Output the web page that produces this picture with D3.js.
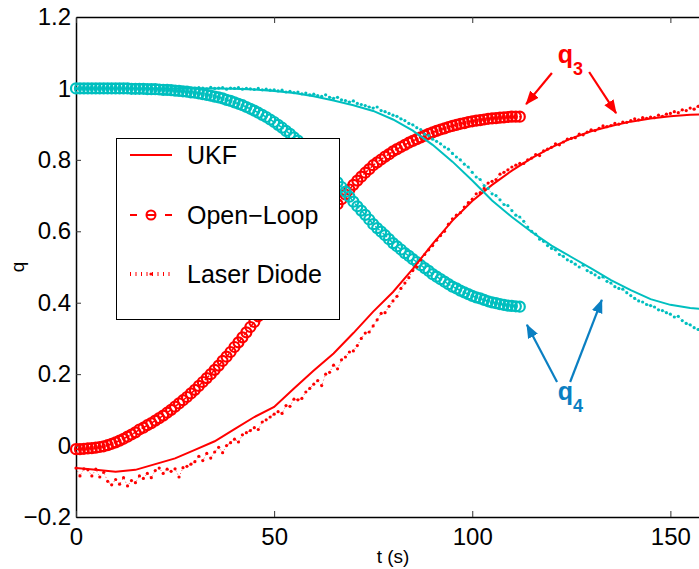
<!DOCTYPE html>
<html>
<head>
<meta charset="utf-8">
<script src="https://cdn.jsdelivr.net/npm/d3@7"></script>
<style>
  body { margin: 0; background: #fff; }
  svg { display: block; font-family: "Liberation Sans", Arial, Helvetica, sans-serif; }
  .axis .domain { stroke: #000; stroke-width: 1.5; }
  .axis .tick line { stroke: #333; stroke-width: 1; }
  .axis .tick text { fill: #000; font-size: 24px; font-family: "Liberation Sans", Arial, sans-serif; }
</style>
</head>
<body>
<svg id="chart" width="699" height="569"></svg>
<script>
// ---- data ----
// open-loop propagation, one sample per second, t = 0..112 s
const tOpen = d3.range(0, 113, 1);
const openQ3 = [
  -0.010, -0.010, -0.009, -0.008, -0.007, -0.006, -0.004, -0.002, 0.001, 0.005,
  0.009, 0.014, 0.019, 0.025, 0.031, 0.037, 0.045, 0.050, 0.057, 0.063,
  0.070, 0.077, 0.084, 0.092, 0.100, 0.109, 0.118, 0.127, 0.136, 0.146,
  0.156, 0.167, 0.178, 0.189, 0.200, 0.212, 0.224, 0.237, 0.249, 0.262,
  0.276, 0.289, 0.303, 0.317, 0.332, 0.346, 0.362, 0.377, 0.392, 0.407,
  0.423, 0.439, 0.456, 0.473, 0.489, 0.505, 0.521, 0.537, 0.553, 0.569,
  0.585, 0.600, 0.616, 0.631, 0.647, 0.661, 0.676, 0.690, 0.703, 0.717,
  0.730, 0.742, 0.753, 0.764, 0.774, 0.785, 0.793, 0.801, 0.809, 0.816,
  0.824, 0.830, 0.836, 0.842, 0.848, 0.853, 0.858, 0.863, 0.868, 0.873,
  0.877, 0.881, 0.885, 0.888, 0.892, 0.895, 0.898, 0.901, 0.903, 0.906,
  0.908, 0.910, 0.911, 0.913, 0.915, 0.916, 0.917, 0.918, 0.919, 0.920,
  0.921, 0.921, 0.921
];
const openQ4 = [
  1.000, 1.000, 1.000, 1.000, 1.000, 1.000, 1.000, 1.000, 1.000, 1.000,
  1.000, 1.000, 1.000, 1.000, 0.999, 0.999, 0.999, 0.999, 0.998, 0.998,
  0.998, 0.997, 0.996, 0.996, 0.995, 0.994, 0.993, 0.992, 0.991, 0.989,
  0.988, 0.986, 0.984, 0.982, 0.980, 0.977, 0.975, 0.972, 0.968, 0.965,
  0.961, 0.957, 0.953, 0.948, 0.943, 0.938, 0.932, 0.926, 0.920, 0.913,
  0.906, 0.898, 0.890, 0.881, 0.873, 0.863, 0.854, 0.843, 0.833, 0.822,
  0.811, 0.800, 0.788, 0.775, 0.763, 0.750, 0.737, 0.724, 0.711, 0.697,
  0.683, 0.670, 0.658, 0.646, 0.633, 0.620, 0.609, 0.599, 0.589, 0.578,
  0.567, 0.558, 0.549, 0.539, 0.531, 0.522, 0.514, 0.505, 0.497, 0.489,
  0.480, 0.473, 0.466, 0.459, 0.452, 0.445, 0.440, 0.434, 0.429, 0.424,
  0.419, 0.415, 0.412, 0.408, 0.404, 0.401, 0.399, 0.396, 0.394, 0.392,
  0.391, 0.390, 0.389
];

// UKF estimate, every 5 s
const tUkf = d3.range(0, 161, 5);
const ukfQ3 = [
  -0.063, -0.068, -0.073, -0.068, -0.052, -0.036, -0.012, 0.012, 0.046, 0.080,
  0.108, 0.160, 0.210, 0.258, 0.315, 0.375, 0.430, 0.495, 0.565, 0.630,
  0.685, 0.730, 0.770, 0.805, 0.835, 0.860, 0.880, 0.895, 0.907, 0.916,
  0.922, 0.926, 0.929
];
const ukfQ4 = [
  1.000, 1.000, 1.000, 1.000, 1.000, 1.000, 1.000, 1.000, 0.999, 0.997,
  0.993, 0.987, 0.978, 0.966, 0.953, 0.937, 0.913, 0.882, 0.842, 0.795,
  0.742, 0.686, 0.640, 0.598, 0.560, 0.528, 0.496, 0.463, 0.435, 0.410,
  0.394, 0.385, 0.380
];

// laser diode measurement, one sample per second
const tLaser = d3.range(0, 161, 1);
const laserQ3 = [
  -0.063, -0.085, -0.065, -0.068, -0.085, -0.066, -0.088, -0.075, -0.100, -0.110,
  -0.095, -0.108, -0.090, -0.113, -0.098, -0.104, -0.085, -0.092, -0.078, -0.090,
  -0.070, -0.063, -0.078, -0.066, -0.072, -0.065, -0.088, -0.062, -0.058, -0.052,
  -0.045, -0.030, -0.042, -0.022, -0.035, -0.018, -0.005, -0.020, 0.000, 0.008,
  0.018, 0.010, 0.030, 0.036, 0.042, 0.050, 0.045, 0.066, 0.072, 0.080,
  0.088, 0.095, 0.090, 0.112, 0.110, 0.130, 0.128, 0.132, 0.150, 0.160,
  0.172, 0.182, 0.168, 0.200, 0.205, 0.225, 0.215, 0.240, 0.248, 0.262,
  0.265, 0.280, 0.300, 0.315, 0.318, 0.335, 0.352, 0.370, 0.372, 0.390,
  0.405, 0.418, 0.440, 0.455, 0.470, 0.490, 0.500, 0.520, 0.535, 0.548,
  0.560, 0.575, 0.588, 0.600, 0.620, 0.635, 0.645, 0.652, 0.668, 0.680,
  0.690, 0.705, 0.708, 0.720, 0.735, 0.740, 0.745, 0.760, 0.765, 0.772,
  0.780, 0.785, 0.790, 0.790, 0.800, 0.805, 0.815, 0.812, 0.825, 0.830,
  0.835, 0.845, 0.842, 0.850, 0.858, 0.860, 0.862, 0.872, 0.870, 0.878,
  0.884, 0.882, 0.888, 0.895, 0.893, 0.896, 0.902, 0.900, 0.906, 0.905,
  0.910, 0.915, 0.912, 0.918, 0.916, 0.920, 0.918, 0.925, 0.922, 0.928,
  0.930, 0.935, 0.932, 0.940, 0.938, 0.945, 0.942, 0.950, 0.948, 0.952,
  0.950
];
const laserQ4 = [
  1.000, 1.002, 0.999, 1.001, 1.000, 0.998, 1.001, 1.000, 1.002, 0.999,
  1.000, 1.001, 0.999, 1.002, 1.000, 1.001, 0.998, 1.000, 1.002, 1.000,
  0.999, 1.001, 1.000, 1.003, 0.999, 1.001, 1.000, 1.002, 0.999, 1.001,
  1.000, 1.002, 1.001, 0.999, 1.003, 1.000, 1.001, 1.002, 0.998, 1.001,
  1.000, 1.002, 0.998, 1.000, 0.999, 0.997, 1.000, 0.996, 0.998, 0.995,
  0.996, 0.993, 0.995, 0.990, 0.992, 0.988, 0.990, 0.985, 0.987, 0.982,
  0.984, 0.980, 0.978, 0.982, 0.975, 0.972, 0.975, 0.968, 0.966, 0.962,
  0.965, 0.958, 0.955, 0.952, 0.948, 0.945, 0.948, 0.938, 0.935, 0.930,
  0.925, 0.922, 0.915, 0.910, 0.902, 0.898, 0.890, 0.885, 0.872, 0.868,
  0.858, 0.852, 0.845, 0.836, 0.830, 0.818, 0.808, 0.800, 0.788, 0.780,
  0.765, 0.752, 0.745, 0.728, 0.720, 0.705, 0.700, 0.688, 0.675, 0.672,
  0.658, 0.645, 0.640, 0.628, 0.612, 0.600, 0.592, 0.578, 0.572, 0.560,
  0.552, 0.548, 0.535, 0.530, 0.520, 0.515, 0.508, 0.500, 0.505, 0.490,
  0.484, 0.478, 0.470, 0.472, 0.460, 0.455, 0.445, 0.440, 0.438, 0.428,
  0.420, 0.412, 0.405, 0.402, 0.395, 0.392, 0.388, 0.380, 0.378, 0.372,
  0.368, 0.360, 0.362, 0.350, 0.342, 0.338, 0.330, 0.325, 0.318, 0.312,
  0.308
];

const xTicks = [0, 50, 100, 150];
const yTicks = [-0.2, 0, 0.2, 0.4, 0.6, 0.8, 1, 1.2];
const yTickLabels = ["\u22120.2", "0", "0.2", "0.4", "0.6", "0.8", "1", "1.2"];
const legendLabels = ["UKF", "Open\u2212Loop", "Laser Diode"];

const RED = "#ff0000";
const CYAN = "#00bfbf";
const BLUE = "#0a7fc2";

const svg = d3.select("#chart");

const x = d3.scaleLinear().domain([0, 160]).range([76, 710]);
const y = d3.scaleLinear().domain([-0.2, 1.2]).range([517, 17]);

const zip = (ts, vs) => ts.map((t, i) => [t, vs[i]]);
const line = d3.line().x(d => x(d[0])).y(d => y(d[1]));

// ---- axes (MATLAB style: ticks inside, box on) ----
svg.append("g")
  .attr("class", "axis")
  .attr("transform", "translate(76,0)")
  .call(d3.axisLeft(y).tickValues(yTicks)
    .tickFormat((d, i) => yTickLabels[i])
    .tickSize(-5).tickSizeOuter(0).tickPadding(5));

svg.append("g")
  .attr("class", "axis")
  .attr("transform", "translate(0,517)")
  .call(d3.axisBottom(x).tickValues(xTicks)
    .tickFormat(d3.format("d"))
    .tickSize(-6).tickSizeOuter(0).tickPadding(11));

// top edge of the box with mirrored ticks
let topAxis = svg.append("g").attr("class", "axis")
  .attr("transform", "translate(0,17)")
  .call(d3.axisTop(x).tickValues(xTicks).tickFormat("").tickSize(-6).tickSizeOuter(0));
topAxis.selectAll(".tick text").remove();

svg.append("text")
  .attr("x", (x.range()[0] + x.range()[1]) / 2)
  .attr("y", 563)
  .attr("text-anchor", "middle")
  .style("font-size", "19px")
  .text("t (s)");

svg.append("text")
  .attr("transform", "translate(24," + ((y.range()[0] + y.range()[1]) / 2) + ") rotate(-90)")
  .attr("text-anchor", "middle")
  .style("font-size", "19px")
  .text("q");

// ---- series ----
let plot = svg.append("g");

function drawOpenLoop(vals, color) {
  let pts = zip(tOpen, vals);
  plot.append("path").datum(pts)
    .attr("d", line).attr("fill", "none")
    .attr("stroke", color).attr("stroke-width", 1.5)
    .attr("stroke-dasharray", "6,4");
  plot.append("g").selectAll("circle")
    .data(pts).enter().append("circle")
    .attr("cx", d => x(d[0]))
    .attr("cy", d => y(d[1]))
    .attr("r", 5)
    .attr("fill", "none")
    .attr("stroke", color)
    .attr("stroke-width", 2.2);
}

function drawUkf(vals, color) {
  plot.append("path").datum(zip(tUkf, vals))
    .attr("d", line).attr("fill", "none")
    .attr("stroke", color).attr("stroke-width", 2);
}

function drawLaser(vals, color) {
  let pts = zip(tLaser, vals);
  plot.append("path").datum(pts)
    .attr("d", line).attr("fill", "none")
    .attr("stroke", color).attr("stroke-width", 1)
    .attr("stroke-dasharray", "1,2.5")
    .attr("opacity", 0.7);
  plot.append("g").selectAll("circle")
    .data(pts).enter().append("circle")
    .attr("cx", d => x(d[0]))
    .attr("cy", d => y(d[1]))
    .attr("r", 1.6)
    .attr("fill", color);
}

drawOpenLoop(openQ3, RED);
drawOpenLoop(openQ4, CYAN);
drawUkf(ukfQ3, RED);
drawUkf(ukfQ4, CYAN);
drawLaser(laserQ3, RED);
drawLaser(laserQ4, CYAN);

// ---- legend ----
let legend = svg.append("g").attr("transform", "translate(116,138)");
legend.append("rect")
  .attr("x", 0.5).attr("y", 0.5)
  .attr("width", 223).attr("height", 181)
  .attr("fill", "#fff").attr("stroke", "#000").attr("stroke-width", 1);

const rowY = [17, 77, 136];
legend.append("line")
  .attr("x1", 14).attr("x2", 56).attr("y1", rowY[0]).attr("y2", rowY[0])
  .attr("stroke", RED).attr("stroke-width", 2);
legend.append("line")
  .attr("x1", 14).attr("x2", 56).attr("y1", rowY[1]).attr("y2", rowY[1])
  .attr("stroke", RED).attr("stroke-width", 2)
  .attr("stroke-dasharray", "7,9,10,9,7");
legend.append("circle")
  .attr("cx", 35).attr("cy", rowY[1]).attr("r", 4.5)
  .attr("fill", "none").attr("stroke", RED).attr("stroke-width", 2);
legend.append("line")
  .attr("x1", 14).attr("x2", 56).attr("y1", rowY[2]).attr("y2", rowY[2])
  .attr("stroke", RED).attr("stroke-width", 4)
  .attr("stroke-dasharray", "1,4.5");
legend.append("circle")
  .attr("cx", 35).attr("cy", rowY[2]).attr("r", 1.6).attr("fill", RED);

legend.selectAll("text.lab")
  .data(legendLabels).enter().append("text")
  .attr("class", "lab")
  .attr("x", 71)
  .attr("y", (d, i) => rowY[i])
  .attr("dy", "0.35em")
  .style("font-size", "25px")
  .text(d => d);

// ---- annotations ----
let defs = svg.append("defs");
[["headRed", RED], ["headBlue", BLUE]].forEach(([id, c]) => {
  defs.append("marker")
    .attr("id", id)
    .attr("markerUnits", "userSpaceOnUse")
    .attr("viewBox", "0 -6 14 12")
    .attr("refX", 13).attr("refY", 0)
    .attr("markerWidth", 14).attr("markerHeight", 12)
    .attr("orient", "auto")
    .append("path").attr("d", "M0,-5.5L14,0L0,5.5Z").attr("fill", c);
});

// arrows in data units: [t0, q0, t1, q1]
const q3Arrows = [[120.1, 1.043, 113.6, 0.956], [129.5, 1.046, 136.3, 0.931]];
const q4Arrows = [[121.4, 0.178, 113.8, 0.338], [124.7, 0.178, 132.7, 0.408]];

function drawArrows(list, color, head) {
  svg.append("g").selectAll("line")
    .data(list).enter().append("line")
    .attr("x1", d => x(d[0])).attr("y1", d => y(d[1]))
    .attr("x2", d => x(d[2])).attr("y2", d => y(d[3]))
    .attr("stroke", color).attr("stroke-width", 2.2)
    .attr("marker-end", "url(#" + head + ")");
}
drawArrows(q3Arrows, RED, "headRed");
drawArrows(q4Arrows, BLUE, "headBlue");

function drawLabel(t, q, sub, color) {
  let txt = svg.append("text")
    .attr("x", x(t)).attr("y", y(q))
    .attr("fill", color)
    .style("font-weight", "bold")
    .style("font-size", "25px");
  txt.append("tspan").text("q");
  txt.append("tspan").attr("dy", 12).style("font-size", "18px").text(sub);
}
drawLabel(121.6, 1.071, "3", RED);
drawLabel(121.6, 0.128, "4", BLUE);
</script>
</body>
</html>
